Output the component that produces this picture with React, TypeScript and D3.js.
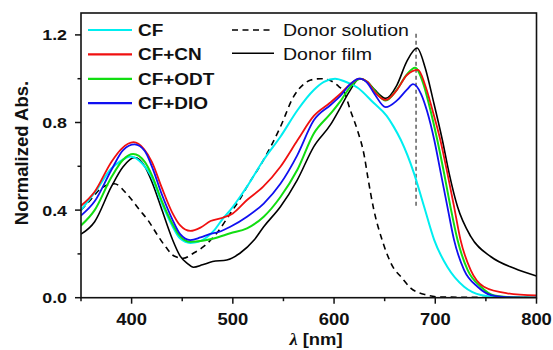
import React from "react";
import * as d3 from "d3";

// ---------- data ----------
const cfLam = [350,365,380,388,399,410,420,430,440,448,458,466,474,482,490,497.5,507,514,530.5,547,564,580,590,601,612,623,639,652,659,666,679,689,699,712,728.5,745,760,800];
const cfVal = [0.40,0.49,0.59,0.62,0.645,0.615,0.55,0.43,0.33,0.27,0.25,0.255,0.275,0.31,0.36,0.40,0.46,0.507,0.63,0.735,0.857,0.948,0.985,1.0,0.985,0.96,0.89,0.83,0.78,0.72,0.568,0.415,0.263,0.14,0.05,0.012,0.003,0.0];

const cnLam = [350,363.5,380,390,402,412,420,430,440,448,458,468,478,490,500,514,530,547,564,580,596,606,616,625,633,640,651,662,672,683,690,697,705,712,718.6,725,735,748,771,800];
const cnVal = [0.42,0.484,0.62,0.68,0.71,0.68,0.62,0.50,0.39,0.33,0.305,0.32,0.35,0.365,0.385,0.446,0.507,0.598,0.72,0.83,0.89,0.93,0.975,1.0,0.985,0.94,0.903,0.948,1.017,1.04,0.97,0.86,0.72,0.568,0.415,0.263,0.126,0.05,0.02,0.01];

const odtLam = [350,363.5,380,391.6,401.5,413,420,430,440,448,458,470,481,497.5,514,530.5,547,563.6,580,596.5,606,616,626,634,641,651,662,672,680,688,695,702,708.7,715,722,732,745,758,775,800];
const odtVal = [0.33,0.40,0.55,0.63,0.656,0.62,0.56,0.44,0.34,0.28,0.255,0.26,0.27,0.294,0.317,0.37,0.46,0.583,0.75,0.84,0.895,0.963,1.0,0.98,0.94,0.90,0.95,1.02,1.05,0.98,0.86,0.72,0.568,0.415,0.263,0.126,0.05,0.01,0.002,0.0];

const dioLam = [350,363.5,380,391.6,403,413,420,430,440,448,458,468,477,486,497.5,514,530.5,547,563.6,580,596.5,606,616,625,633,640,651,662,672,678,686,692,699,705.5,712,718.6,728.5,741.8,755,770,800];
const dioVal = [0.375,0.44,0.583,0.674,0.70,0.67,0.60,0.47,0.36,0.29,0.263,0.275,0.29,0.30,0.324,0.37,0.43,0.52,0.65,0.81,0.88,0.92,0.975,1.0,0.98,0.93,0.87,0.90,0.95,0.975,0.93,0.85,0.72,0.568,0.415,0.263,0.126,0.05,0.012,0.003,0.0];

const solLam = [350,360,370,383,396,408,416,425,434,442,451,461,471,484,497.5,507,514,530.5,547,560,570,577,587,595,605,610,616,623,630,633,639,648,659,666,676,692,705,800];
const solVal = [0.40,0.45,0.50,0.52,0.47,0.40,0.355,0.29,0.23,0.19,0.18,0.203,0.233,0.294,0.385,0.45,0.507,0.63,0.78,0.918,0.975,0.994,1.0,0.994,0.963,0.94,0.857,0.766,0.644,0.56,0.408,0.256,0.134,0.096,0.043,0.012,0.003,0.0];

const filmLam = [350,363.5,380,391.6,403,413,420,430,440,448,455,461,470,480,494,507,521,530.5,547,563.6,580,596.5,606,616,625,633,640,651,662,672,682,690,698,707,713.7,722,735,755,778,800];
const filmVal = [0.29,0.347,0.507,0.598,0.64,0.60,0.53,0.40,0.27,0.19,0.157,0.139,0.15,0.165,0.172,0.203,0.263,0.324,0.415,0.537,0.69,0.79,0.866,0.948,1.0,0.985,0.95,0.91,0.97,1.08,1.14,1.05,0.90,0.72,0.568,0.415,0.28,0.187,0.134,0.099];

const markerLam = [681, 681];
const markerVal = [0.42, 1.21];

const xMajor = [400, 500, 600, 700, 800];
const xMinor = [350, 450, 550, 650, 750];
const yMajor = [0.0, 0.4, 0.8, 1.2];
const yMinor = [0.2, 0.6, 1.0];

const legendLeft = ["CF", "CF+CN", "CF+ODT", "CF+DIO"];
const legendRight = ["Donor solution", "Donor film"];

// ---------- layout ----------
const W = 553, H = 350;
const L = 81, R = 536.5, T = 13, B = 297.7;
const SX = 1.15; // horizontal text stretch

const x = d3.scaleLinear().domain([350, 800]).range([L, R]);
const y = d3.scaleLinear().domain([0, 1.3]).range([B, T]);
const line = d3.line<[number, number]>().x(d => x(d[0])).y(d => y(d[1])).curve(d3.curveMonotoneX);
const path = (lam: number[], val: number[]) => line(lam.map((l, i) => [l, val[i]]) as [number, number][]) || "";

const series = [
  { lam: solLam, val: solVal, color: "#000", width: 1.6, dash: "6,4.5" },
  { lam: filmLam, val: filmVal, color: "#000", width: 1.6, dash: "" },
  { lam: cfLam, val: cfVal, color: "#00EEF0", width: 2, dash: "" },
  { lam: odtLam, val: odtVal, color: "#11DD11", width: 2, dash: "" },
  { lam: cnLam, val: cnVal, color: "#F01010", width: 1.8, dash: "" },
  { lam: dioLam, val: dioVal, color: "#1010F0", width: 1.8, dash: "" },
];
const legendColors = ["#00EEF0", "#F01010", "#11DD11", "#1010F0"];

const fmt = d3.format(".1f");

const SText = ({ tx, ty, anchor, size, bold, children }: any) => (
  <g transform={`translate(${tx},${ty}) scale(${SX},1)`}>
    <text x={0} y={0} textAnchor={anchor || "start"} fontSize={size} fontWeight={bold ? "bold" : "normal"}
      fontFamily="Liberation Sans, Arial, sans-serif" fill="#111">{children}</text>
  </g>
);

export default function App() {
  return (
    <div style={{ position: "fixed", left: 0, top: 0 }}>
      <svg width={W} height={H} style={{ display: "block", background: "#fff" }}>
        <defs>
          <clipPath id="plot"><rect x={L} y={T} width={R - L} height={B - T} /></clipPath>
        </defs>
        <g clipPath="url(#plot)">
          <path d={path(markerLam, markerVal)} stroke="#444" strokeWidth={1.3} strokeDasharray="4,3" fill="none" />
          {series.map((s, i) => (
            <path key={i} d={path(s.lam, s.val)} stroke={s.color} strokeWidth={s.width}
              strokeDasharray={s.dash || undefined} fill="none" strokeLinejoin="round" />
          ))}
        </g>
        {/* frame */}
        <rect x={L} y={T} width={R - L} height={B - T} fill="none" stroke="#111" strokeWidth={1.6} />
        {/* x ticks */}
        {xMajor.map(v => (
          <g key={"xm" + v}>
            <line x1={x(v)} x2={x(v)} y1={B} y2={B + 6} stroke="#111" strokeWidth={1.5} />
            <SText tx={x(v)} ty={325} anchor="middle" size={16} bold>{String(v)}</SText>
          </g>
        ))}
        {xMinor.map(v => (
          <line key={"xn" + v} x1={x(v)} x2={x(v)} y1={B} y2={B + 3.5} stroke="#111" strokeWidth={1.5} />
        ))}
        {/* y ticks */}
        {yMajor.map(v => (
          <g key={"ym" + v}>
            <line x1={L - 6} x2={L} y1={y(v)} y2={y(v)} stroke="#111" strokeWidth={1.5} />
            <SText tx={67} ty={y(v) + 5.5} anchor="end" size={15.5} bold>{fmt(v)}</SText>
          </g>
        ))}
        {yMinor.map(v => (
          <line key={"yn" + v} x1={L - 3.5} x2={L} y1={y(v)} y2={y(v)} stroke="#111" strokeWidth={1.5} />
        ))}
        {/* axis labels */}
        <text transform="translate(28,153) rotate(-90)" textAnchor="middle" fontSize={18.5} fontWeight="bold"
          fontFamily="Liberation Sans, Arial, sans-serif" fill="#111">Normalized Abs.</text>
        <g transform={`translate(316,345) scale(${SX},1)`}>
          <text x={0} y={0} textAnchor="middle" fontSize={16} fontWeight="bold"
            fontFamily="Liberation Sans, Arial, sans-serif" fill="#111">
            <tspan fontStyle="italic" fontFamily="Liberation Serif, Times New Roman, serif">λ</tspan> [nm]
          </text>
        </g>
        {/* legend left */}
        {legendLeft.map((name, i) => {
          const ly = 30 + i * 24.4;
          return (
            <g key={name}>
              <line x1={88} x2={132} y1={ly} y2={ly} stroke={legendColors[i]} strokeWidth={2.2} />
              <SText tx={138} ty={ly + 6} size={16.5} bold>{name}</SText>
            </g>
          );
        })}
        {/* legend right */}
        {legendRight.map((name, i) => {
          const ly = 30 + i * 23.3;
          return (
            <g key={name}>
              <line x1={232} x2={274} y1={ly} y2={ly} stroke="#000" strokeWidth={1.6}
                strokeDasharray={i === 0 ? "6,4.5" : undefined} />
              <SText tx={283} ty={ly + 6.2} size={17}>{name}</SText>
            </g>
          );
        })}
      </svg>
    </div>
  );
}
